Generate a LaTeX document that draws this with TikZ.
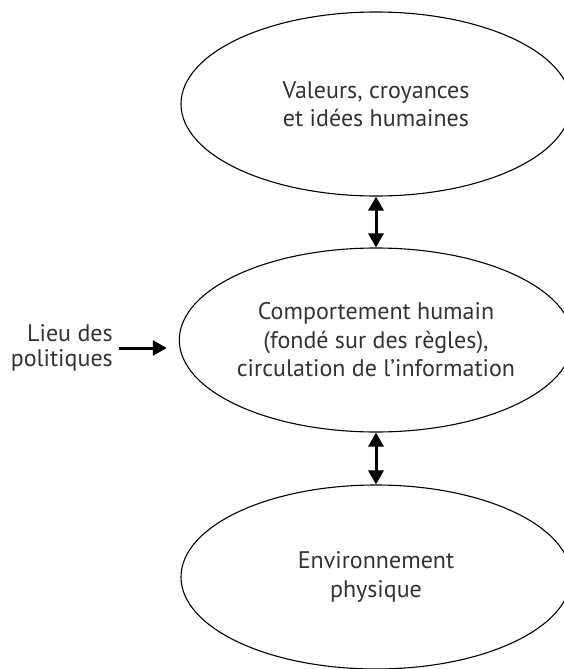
\documentclass[tikz,border=0pt]{standalone}
\usepackage{fontspec}
\setmainfont{PT Sans}
\usepackage{tikz}
\usetikzlibrary{arrows.meta,calc,shapes.geometric}
\definecolor{txtgray}{HTML}{333333}

\begin{document}
\begin{tikzpicture}[x=1pt,y=-1pt,
  bulle/.style={draw,ellipse,line width=1.1pt,minimum width=390pt,minimum height=184pt,inner sep=0pt,align=center,text=txtgray,font=\fontsize{24}{28.5}\selectfont},
  fleche/.style={line width=3pt,{Triangle[length=14pt,width=15pt]}-{Triangle[length=14pt,width=15pt]}}]

\useasboundingbox (0,0) rectangle (564,669);

\node[bulle] (val) at (376,104) {Valeurs, croyances\\ et idées humaines};
\node[bulle] (comp) at (376,340) {Comportement humain\\(fondé sur des règles),\\circulation de l’information};
\node[bulle] (env) at (376,577) {Environnement\\physique};

\node[anchor=east,align=right,text=txtgray,inner sep=6pt,font=\fontsize{24}{25}\selectfont] (lieu) at (119,348) {Lieu des\\politiques};

\path[fleche] (val) edge (comp) (comp) edge (env);
\draw[line width=3pt,-{Triangle[length=14pt,width=15pt]},shorten >=12pt] (lieu.east) -- (lieu.east -| comp.west);

\end{tikzpicture}
\end{document}
